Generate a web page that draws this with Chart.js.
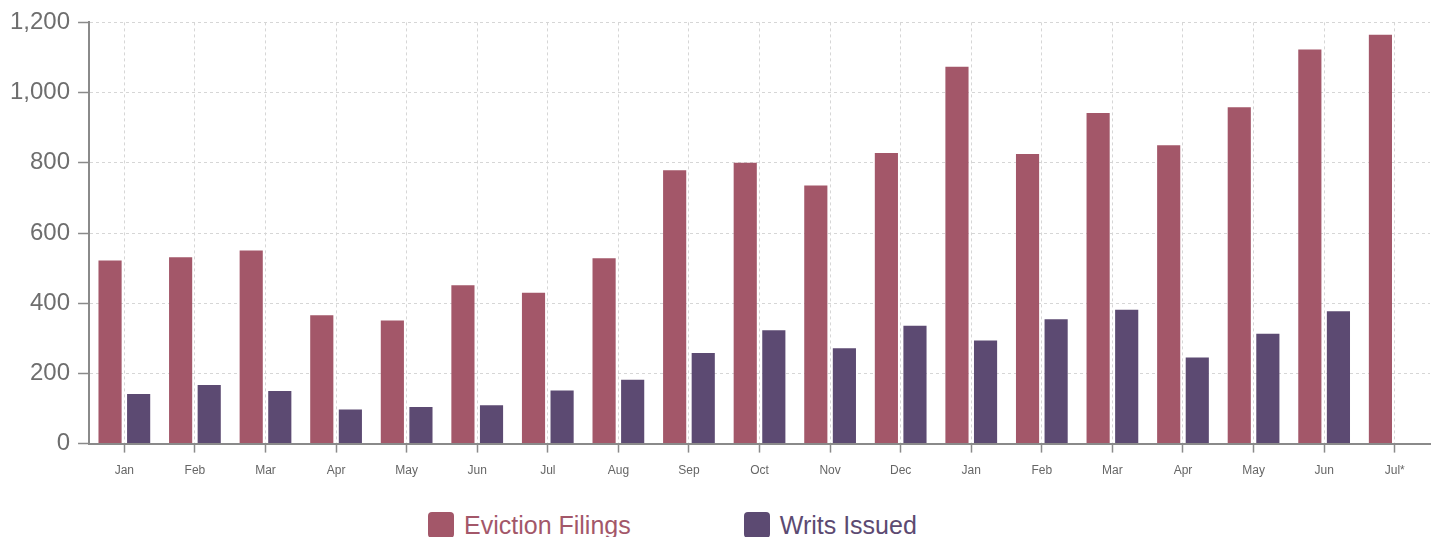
<!DOCTYPE html>
<html lang="en">
<head>
<meta charset="utf-8">
<title>Eviction Filings and Writs Issued</title>
<script src="https://cdn.jsdelivr.net/npm/chart.js@4.4.0/dist/chart.umd.min.js"></script>
<style>
    html, body {
        margin: 0;
        padding: 0;
        background: #ffffff;
    }
    body {
        width: 1435px;
        height: 537px;
        overflow: hidden;
        position: relative;
        font-family: Helvetica, Arial, "Liberation Sans", sans-serif;
    }
    #chart-wrap {
        position: absolute;
        left: 0;
        top: 0;
        width: 1435px;
        height: 489px;
    }
    #legend {
        position: absolute;
        left: 428px;
        top: 512px;
        display: flex;
        align-items: center;
        gap: 113px;
    }
    .legend-item {
        display: flex;
        align-items: center;
        font-size: 25px;
        line-height: 26px;
        white-space: nowrap;
    }
    .legend-box {
        width: 26px;
        height: 26px;
        border-radius: 4px;
        margin-right: 10px;
    }
</style>
</head>
<body>
<div id="chart-wrap"><canvas id="evictions-chart"></canvas></div>
<div id="legend"></div>

<script>
// datos
const months = ['Jan', 'Feb', 'Mar', 'Apr', 'May', 'Jun', 'Jul', 'Aug', 'Sep', 'Oct', 'Nov', 'Dec',
                'Jan', 'Feb', 'Mar', 'Apr', 'May', 'Jun', 'Jul*'];
const evictionFilings = [522, 531, 550, 366, 351, 451, 430, 528, 779, 800, 735, 828,
                         1074, 825, 942, 850, 958, 1123, 1165];
const writsIssued = [141, 167, 150, 97, 104, 109, 151, 182, 258, 323, 272, 336,
                     294, 354, 381, 245, 313, 377, null];
const yTicks = [0, 200, 400, 600, 800, 1000, 1200];

const FILINGS_COLOR = '#a35769';
const WRITS_COLOR = '#5c4a72';
const AXIS_COLOR = '#8a8a8a';
const GRID_COLOR = '#d6d6d6';
const FONT = 'Helvetica, Arial, "Liberation Sans", sans-serif';

// leyenda en HTML (mismo patron que el ejemplo "HTML legend" de Chart.js)
const htmlLegendPlugin = {
    id: 'htmlLegend',
    afterUpdate(chart) {
        const container = document.getElementById('legend');
        container.innerHTML = '';
        const items = chart.options.plugins.legend.labels.generateLabels(chart);
        items.forEach(item => {
            const li = document.createElement('div');
            li.className = 'legend-item';
            li.style.color = item.fillStyle;

            const box = document.createElement('span');
            box.className = 'legend-box';
            box.style.background = item.fillStyle;

            const text = document.createElement('span');
            text.textContent = item.text;

            li.appendChild(box);
            li.appendChild(text);
            container.appendChild(li);
        });
    }
};

document.addEventListener('DOMContentLoaded', () => {
    const ctx = document.getElementById('evictions-chart');

    new Chart(ctx.getContext('2d'), {
        type: 'bar',
        data: {
            labels: months,
            datasets: [{
                label: 'Eviction Filings',
                data: evictionFilings,
                backgroundColor: FILINGS_COLOR,
                categoryPercentage: 0.81,
                barPercentage: 0.81
            }, {
                label: 'Writs Issued',
                data: writsIssued,
                backgroundColor: WRITS_COLOR,
                categoryPercentage: 0.81,
                barPercentage: 0.81
            }]
        },
        options: {
            responsive: true,
            maintainAspectRatio: false,
            animation: false,
            layout: {
                padding: { left: 2, right: 5, top: 20, bottom: 0 }
            },
            plugins: {
                legend: { display: false },
                tooltip: { enabled: false }
            },
            scales: {
                x: {
                    offset: true,
                    grid: {
                        offset: false,
                        color: GRID_COLOR,
                        lineWidth: 1,
                        tickLength: 9,
                        tickColor: AXIS_COLOR,
                        tickWidth: 1.5
                    },
                    border: {
                        display: true,
                        color: AXIS_COLOR,
                        width: 2,
                        dash: [3, 3]
                    },
                    ticks: {
                        color: '#666666',
                        font: { family: FONT, size: 12 },
                        padding: 11,
                        maxRotation: 0,
                        autoSkip: false
                    }
                },
                y: {
                    min: 0,
                    max: 1200,
                    afterBuildTicks: axis => {
                        axis.ticks = yTicks.map(v => ({ value: v }));
                    },
                    grid: {
                        color: GRID_COLOR,
                        lineWidth: 1,
                        tickLength: 11,
                        tickColor: AXIS_COLOR,
                        tickWidth: 1.5
                    },
                    border: {
                        display: true,
                        color: AXIS_COLOR,
                        width: 2,
                        dash: [3, 3]
                    },
                    ticks: {
                        color: '#6e6e6e',
                        font: { family: FONT, size: 24 },
                        padding: 8,
                        callback: value => value.toLocaleString('en-US')
                    }
                }
            }
        },
        plugins: [htmlLegendPlugin]
    });
});
</script>
</body>
</html>
